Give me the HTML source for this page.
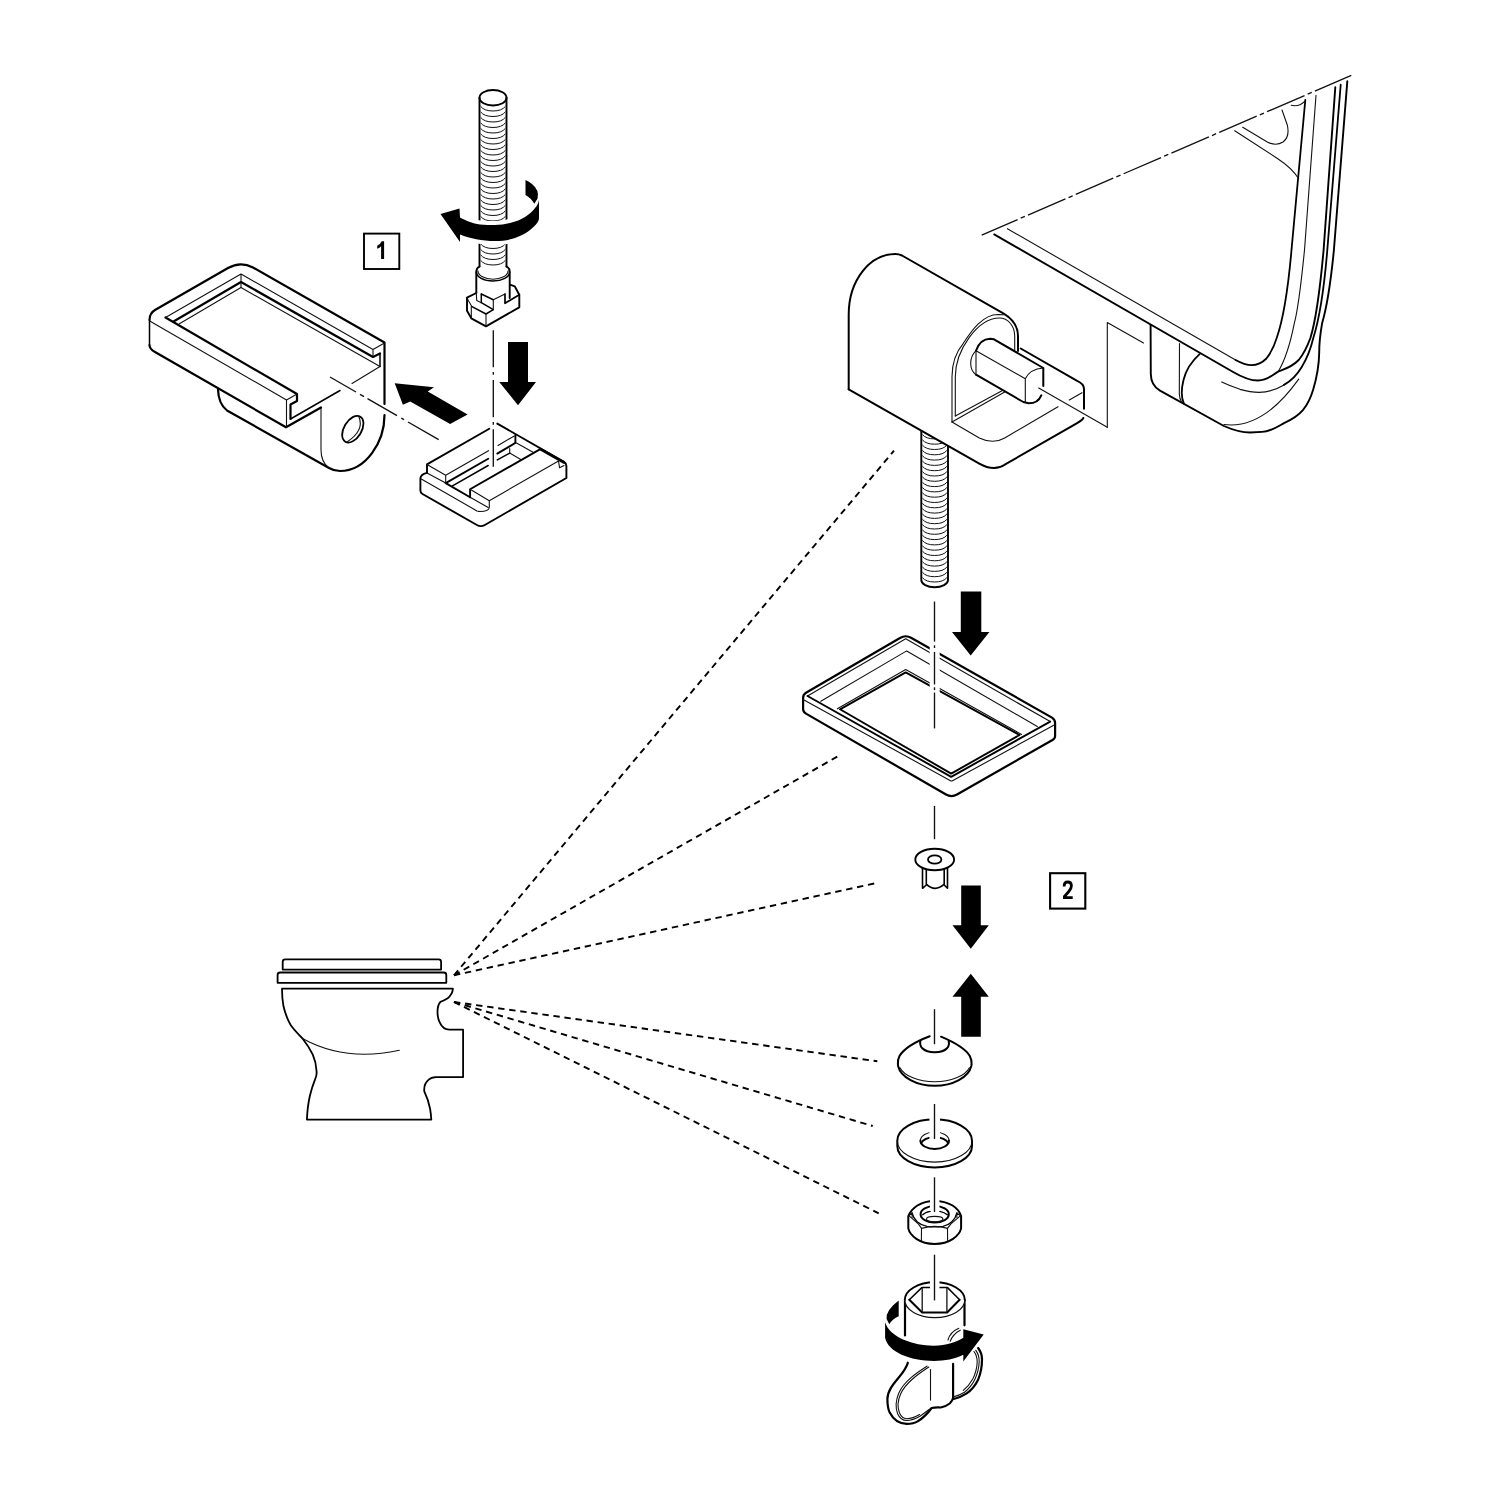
<!DOCTYPE html>
<html><head><meta charset="utf-8"><title>Assembly</title>
<style>
html,body{margin:0;padding:0;background:#fff}
body{width:1500px;height:1500px;overflow:hidden;font-family:"Liberation Sans",sans-serif}
svg{display:block}
.k{fill:none;stroke:#000;stroke-width:2.2;stroke-linecap:round;stroke-linejoin:round}
.m{fill:none;stroke:#000;stroke-width:1.5;stroke-linecap:round;stroke-linejoin:round}
.n{fill:none;stroke:#111;stroke-width:1.1;stroke-linecap:round;stroke-linejoin:round}
.t{fill:none;stroke:#111;stroke-width:1;stroke-linecap:butt}
.c{fill:none;stroke:#111;stroke-width:1.35;stroke-linecap:butt}
.d{fill:none;stroke:#000;stroke-width:1.9;stroke-dasharray:6.4 4.75;stroke-linecap:butt}
.h{fill:none;stroke:#fff;stroke-width:9;stroke-linecap:butt}
.wf{fill:#fff;stroke:none}
#hinge2 .k{stroke-width:2}
#slider .k{stroke-width:1.9}
text{font-family:"Liberation Sans",sans-serif;font-weight:bold;fill:#000}
</style></head><body>
<svg width="1500" height="1500" viewBox="0 0 1500 1500">
<rect width="1500" height="1500" fill="#fff"/>
<g id="block1">
<path class="k" d="M384.5,415 C384.5,442 366,471 340,471 C335,471 331.5,469.5 329,468 L227,410.5 Q218.5,404 218,389.5"/>
<path class="n" d="M321,407.5 L321,450 Q321,462 329,468"/>
<path class="k" d="M149.5,320 Q149.5,313.2 155,310 L228,268 Q240.5,260.8 253,267.5 L384.5,342.5 L384.5,404"/>
<path class="m" d="M149.5,320 L149.5,345"/>
<path class="k" d="M149.5,345 Q149.5,349 155,352 L286,427.3 L321,407.5"/>
<path class="k" d="M165.5,317.5 L297,394 L297,401 L290.5,404.5 L290.5,419"/>
<path class="m" d="M290.5,419 L340,390.5"/>
<path class="n" d="M352,383.5 L380,366.5"/>
<path class="n" d="M286.5,400 L297,394 M286.5,400 L286.5,427.3 M149.7,321 L286.5,400"/>
<path class="n" d="M165.5,317.5 L241,274 L373,349.5 L384.5,343 M241,274 L241,287.5 M373,349.5 L373,357"/>
<path class="k" d="M173.5,321.5 L241,282 L373,357 L380,353.5"/>
<path class="m" d="M380,353.5 L380,366.5"/>
<path class="n" d="M179,324 L241,287.5 L380,366.5"/>
<ellipse class="m" cx="352.8" cy="429.2" rx="14.6" ry="8.8" transform="rotate(-59 352.8 429.2)" style="stroke-width:1.8"/>
<path class="n" d="M359,417 Q364.5,430.5 347,442"/>
</g>
<path class="c" d="M330,377 L356,392"/>
<path class="c" d="M360,394.3 L364,396.6"/>
<path class="c" d="M367.5,398.6 L397,415.7"/>
<path class="c" d="M401.3,418.1 L404,419.7"/>
<path class="c" d="M408,422 L438.7,439.7"/>
<polygon fill="#000" points="394.7,383.3 434,387.2 427.8,391.5 467.6,414.5 450.1,424 410.2,401.6 402.9,404.8"/>
<polygon fill="#000" points="508,342 528,342 528,382 536,382 518,405.3 499.3,382 508,382"/>
<rect x="364" y="233.6" width="35.3" height="35.4" fill="#fff" stroke="#000" stroke-width="1.9"/>
<path fill="#000" d="M381.1,259.1 L384.1,259.1 L384.1,241.2 L381.7,241.2 Q380.4,244.4 377.2,245.7 L377.2,248.8 Q379.8,247.9 381.1,246.2 Z"/>
<g id="bolt1">
<path class="wf" d="M479.5,97.75 L479.5,270 L506.5,270 L506.5,97.75 A13.5,7.75 0 0 0 479.5,97.75 Z"/>
<path class="t" d="M480.6,106.31 A13.5,7.75 0 0 0 505.4,106.31"/>
<path class="t" d="M480.6,111.81 A13.5,7.75 0 0 0 505.4,111.81"/>
<path class="t" d="M480.6,117.31 A13.5,7.75 0 0 0 505.4,117.31"/>
<path class="t" d="M480.6,122.81 A13.5,7.75 0 0 0 505.4,122.81"/>
<path class="t" d="M480.6,128.31 A13.5,7.75 0 0 0 505.4,128.31"/>
<path class="t" d="M480.6,133.81 A13.5,7.75 0 0 0 505.4,133.81"/>
<path class="t" d="M480.6,139.31 A13.5,7.75 0 0 0 505.4,139.31"/>
<path class="t" d="M480.6,144.81 A13.5,7.75 0 0 0 505.4,144.81"/>
<path class="t" d="M480.6,150.31 A13.5,7.75 0 0 0 505.4,150.31"/>
<path class="t" d="M480.6,155.81 A13.5,7.75 0 0 0 505.4,155.81"/>
<path class="t" d="M480.6,161.31 A13.5,7.75 0 0 0 505.4,161.31"/>
<path class="t" d="M480.6,166.81 A13.5,7.75 0 0 0 505.4,166.81"/>
<path class="t" d="M480.6,172.31 A13.5,7.75 0 0 0 505.4,172.31"/>
<path class="t" d="M480.6,177.81 A13.5,7.75 0 0 0 505.4,177.81"/>
<path class="t" d="M480.6,183.31 A13.5,7.75 0 0 0 505.4,183.31"/>
<path class="t" d="M480.6,188.81 A13.5,7.75 0 0 0 505.4,188.81"/>
<path class="t" d="M480.6,194.31 A13.5,7.75 0 0 0 505.4,194.31"/>
<path class="t" d="M480.6,199.81 A13.5,7.75 0 0 0 505.4,199.81"/>
<path class="t" d="M480.6,205.31 A13.5,7.75 0 0 0 505.4,205.31"/>
<path class="t" d="M480.6,210.81 A13.5,7.75 0 0 0 505.4,210.81"/>
<path class="t" d="M480.6,216.31 A13.5,7.75 0 0 0 505.4,216.31"/>
<path class="t" d="M480.6,221.81 A13.5,7.75 0 0 0 505.4,221.81"/>
<path class="t" d="M480.6,227.31 A13.5,7.75 0 0 0 505.4,227.31"/>
<path class="t" d="M480.6,232.81 A13.5,7.75 0 0 0 505.4,232.81"/>
<path class="t" d="M480.6,238.31 A13.5,7.75 0 0 0 505.4,238.31"/>
<path class="t" d="M480.6,243.81 A13.5,7.75 0 0 0 505.4,243.81"/>
<path class="t" d="M480.6,249.31 A13.5,7.75 0 0 0 505.4,249.31"/>
<path class="t" d="M480.6,254.81 A13.5,7.75 0 0 0 505.4,254.81"/>
<path class="t" d="M480.6,260.31 A13.5,7.75 0 0 0 505.4,260.31"/>
<ellipse class="k" cx="493" cy="97.75" rx="13.5" ry="7.75" style="stroke-width:1.9"/>
<path class="k" d="M479.5,97.75 L479.5,266.5 M506.5,97.75 L506.5,266.5" style="stroke-width:1.9"/>
<path class="k" d="M479.5,266.5 Q476.3,268 476.3,272 L476.3,292.7 M506.5,266.5 Q509.7,268 509.7,272 L509.7,298" style="stroke-width:1.9"/>
<path class="k" d="M476.3,272 A16.7,9 0 0 0 509.7,272" style="stroke-width:1.6"/>
<path class="n" d="M478,271 A15,8.2 0 0 0 508,271"/>
<path class="k" d="M476.3,293 L467,297.7 L467,310.7 L471.3,318.3 L486,326.3 L519.3,307.3 L519.3,294.7 L514.7,286.3 L510,284.7" style="stroke-width:1.9"/>
<path class="k" d="M519.3,294.7 L505,303.3 L505,294" style="stroke-width:1.7"/>
<path class="n" d="M505,294 L493.3,299.7"/>
<path class="m" d="M481.3,294 L493.3,299.7"/>
<path class="m" d="M481.3,294 L481.3,302.7 L493.3,309.7 L486,314 L472,306.7"/>
<path class="n" d="M493.3,299.7 L493.3,309.7"/>
<path class="n" d="M486,314 L486,326.3"/>
<path class="n" d="M472,306.7 L468.3,300.5 L467,297.7"/>
<path class="n" d="M471.3,306.5 L471.3,318.3"/>
<path class="n" d="M476.3,292.7 L476.7,300.5 L481.3,302.7"/>
</g>
<path class="c" d="M493.3,330.3 L493.3,367.3"/>
<path class="c" d="M493.3,372 L493.3,374.7"/>
<path class="c" d="M493.3,380 L493.3,417.3"/>
<path class="c" d="M493.3,422 L493.3,424.7"/>
<g id="rot1">
<clipPath id="cr1"><rect x="474" y="205" width="40" height="50"/></clipPath>
<path clip-path="url(#cr1)" fill="none" stroke="#fff" stroke-width="8" d="M460,217.5 L459.5,208.5 L440.5,214 L460,242 L460,234.5 C470,238.5 482,241 495,241 C503,241 509,240 515,238 C522,235.5 527,232.5 530,230 C535,226 539,222 539,218 L539,200 C538,204 537,206 535,208 C532,212 529,214.5 525,217 C521,219.5 516,221.5 510,223 C505,224.3 500,225 495,225 C490,225 485,225 480,224.5 C476,224 473,223 470,222 C466,220.5 463,219 460,217.5 Z"/>
<path class="" d="M525.5,180 L525.5,195 Q531,198 534.3,203.8 L537.6,198.6 Q539.5,190 532,184 Q529,181.6 525.5,180 Z" fill="#000"/>
<path class="" d="M460,217.5 L459.5,208.5 L440.5,214 L460,242 L460,234.5 C470,238.5 482,241 495,241 C503,241 509,240 515,238 C522,235.5 527,232.5 530,230 C535,226 539,222 539,218 L539,200 C538,204 537,206 535,208 C532,212 529,214.5 525,217 C521,219.5 516,221.5 510,223 C505,224.3 500,225 495,225 C490,225 485,225 480,224.5 C476,224 473,223 470,222 C466,220.5 463,219 460,217.5 Z" fill="#000"/>
</g>
<g id="slider">
<path class="k" d="M427,472.9 L427,464.4 L489.3,428.7"/>
<path class="k" d="M497.3,423.6 L564,461.9 Q566.4,463.3 566.4,466 L566.4,478 L484.8,525 Q480.8,527.2 476.9,525 L422.5,494 Q420.4,492.8 420.4,490.5 L420.4,478.5 Q420.4,474.6 427,472.9"/>
<path class="k" d="M445.7,483.1 L488.2,458.7 M497.3,453.6 L515.4,442.9 L515.4,435"/>
<path class="m" d="M452.5,485.9 L488.2,465.5 M497.3,459.9 L509.7,453.1"/>
<path class="k" d="M470.1,497.3 L470.1,489.3 L540.3,449.1"/>
<path class="k" d="M445.7,483.1 L470.1,497.3"/>
<path class="n" d="M427,464.4 L445.7,475.2 L488.5,450.7 M498,445.4 L514.3,436 M445.7,475.2 L445.7,483.1"/>
<path class="n" d="M509.7,448.5 L509.7,453.1 L521.6,459.9 M516.5,442.9 L533.5,452.5"/>
<path class="n" d="M427,472.9 L445.7,483.1"/>
<path class="n" d="M470.1,489.3 L489.3,500.7 L558.5,461 L559.6,467.8 L564.1,465.5"/>
<path class="n" d="M489.3,500.7 L489.3,507.5 Q488.5,512 478,511.4"/>
<path class="n" d="M421.3,479.1 L476.9,510.9 M470.1,497.3 L488.2,507.5"/>
<path class="k" d="M540.3,449.1 L564,462.5" style="stroke-width:2.6"/>
</g>
<path class="c" d="M493.3,429.3 L493.3,466.7"/>
<g id="bolt2"><clipPath id="cb2"><polygon points="919,429.5 950,447.4 950,600 919,600"/></clipPath><g clip-path="url(#cb2)">
<path class="t" d="M922.4,577.60 A13.35,7.3 0 0 0 946.9,577.60"/>
<path class="t" d="M922.4,572.30 A13.35,7.3 0 0 0 946.9,572.30"/>
<path class="t" d="M922.4,567.00 A13.35,7.3 0 0 0 946.9,567.00"/>
<path class="t" d="M922.4,561.70 A13.35,7.3 0 0 0 946.9,561.70"/>
<path class="t" d="M922.4,556.40 A13.35,7.3 0 0 0 946.9,556.40"/>
<path class="t" d="M922.4,551.10 A13.35,7.3 0 0 0 946.9,551.10"/>
<path class="t" d="M922.4,545.80 A13.35,7.3 0 0 0 946.9,545.80"/>
<path class="t" d="M922.4,540.50 A13.35,7.3 0 0 0 946.9,540.50"/>
<path class="t" d="M922.4,535.20 A13.35,7.3 0 0 0 946.9,535.20"/>
<path class="t" d="M922.4,529.90 A13.35,7.3 0 0 0 946.9,529.90"/>
<path class="t" d="M922.4,524.60 A13.35,7.3 0 0 0 946.9,524.60"/>
<path class="t" d="M922.4,519.30 A13.35,7.3 0 0 0 946.9,519.30"/>
<path class="t" d="M922.4,514.00 A13.35,7.3 0 0 0 946.9,514.00"/>
<path class="t" d="M922.4,508.70 A13.35,7.3 0 0 0 946.9,508.70"/>
<path class="t" d="M922.4,503.40 A13.35,7.3 0 0 0 946.9,503.40"/>
<path class="t" d="M922.4,498.10 A13.35,7.3 0 0 0 946.9,498.10"/>
<path class="t" d="M922.4,492.80 A13.35,7.3 0 0 0 946.9,492.80"/>
<path class="t" d="M922.4,487.50 A13.35,7.3 0 0 0 946.9,487.50"/>
<path class="t" d="M922.4,482.20 A13.35,7.3 0 0 0 946.9,482.20"/>
<path class="t" d="M922.4,476.90 A13.35,7.3 0 0 0 946.9,476.90"/>
<path class="t" d="M922.4,471.60 A13.35,7.3 0 0 0 946.9,471.60"/>
<path class="t" d="M922.4,466.30 A13.35,7.3 0 0 0 946.9,466.30"/>
<path class="t" d="M922.4,461.00 A13.35,7.3 0 0 0 946.9,461.00"/>
<path class="t" d="M922.4,455.70 A13.35,7.3 0 0 0 946.9,455.70"/>
<path class="t" d="M922.4,450.40 A13.35,7.3 0 0 0 946.9,450.40"/>
<path class="t" d="M922.4,445.10 A13.35,7.3 0 0 0 946.9,445.10"/>
<path class="t" d="M922.4,439.80 A13.35,7.3 0 0 0 946.9,439.80"/>
<path class="t" d="M922.4,434.50 A13.35,7.3 0 0 0 946.9,434.50"/>
<path class="t" d="M922.4,429.20 A13.35,7.3 0 0 0 946.9,429.20"/>
<path class="t" d="M922.4,423.90 A13.35,7.3 0 0 0 946.9,423.90"/>
<path class="k" d="M921.3,425 L921.3,580 A13.35,7.3 0 0 0 948.0,580 L948.0,425" style="stroke-width:1.9"/>
</g></g>
<g id="hinge2">
<path class="k" d="M848.7,389.3 L848.7,314.7 C848.7,280 870,254 895.3,254 Q899,254 902,255.5 L1003.3,313.3 Q1018,322 1018,336 L1018,351"/>
<path class="k" d="M848.7,389.3 L979.3,463.6 Q987,468 994,468 Q1000,468 1004.7,464.7 L1076.7,423.3 Q1082,420.5 1083.3,418"/>
<path class="k" d="M1084,408.7 L1084,388.7 Q1084,384 1076.7,380.7 L1020.7,348.5"/>
<path class="n" d="M952,422 L952,376.7 C952,362 956,352 963.3,343.3 C972,330 983,314.5 998,314.5 L1004,314.7"/>
<path class="n" d="M955.3,416 L955.3,377 C955.3,350 978,318 999.3,318 C1008,318 1014.7,326 1014.7,336 L1014.7,350"/>
<path class="n" d="M955.3,416 L1002,390.7 M952,422 L1004.7,392"/>
<path class="n" d="M952,422 L979.3,438 Q986,441.3 992.7,441.3 Q999,441.3 1004.7,438 L1058,406.7 M1069.3,400 L1082,392.7"/>
<path class="wf" d="M976,350.7 L994,339.3 L1043.3,368 L1043.3,386 L1028.7,403.3 L976,374.7 Z"/>
<path class="k" d="M976,350.7 Q980,339 990,338.7 L994,339.3 L1043.3,368 L1043.3,386 M1041.3,395.3 Q1038,403.3 1028.7,403.3 L1023.3,402 L976,374.7"/>
<path class="n" d="M976,374.7 Q970.7,371 970.7,363.3 Q970.7,356 976,350.7"/>
<path class="n" d="M976,350.7 L976,374.7 M976,350.7 L1025.3,378.7 L1025.3,402.5 M1025.3,378.7 Q1030,369 1043.3,368"/>
<path class="n" d="M1038.7,388 L1107.3,427.3"/>
<path class="n" d="M1107.3,427.3 L1107.3,322.5 L1143.5,343"/>
</g>
<g id="seat">
<path class="k" d="M1335.3,87.3 L1323.6,250 C1320,290 1316,320 1310.4,338 C1306,350 1302,356 1298.7,360 C1292,367 1285,369 1278.1,371.7 C1272,375 1268,380.5 1258,380.5 C1248,380.5 1240,376 1232.7,371.7 L994.2,234.4" style="stroke-width:1.9"/>
<path class="k" d="M1305.3,100 L1291.5,250 C1288,290 1283,320 1276.7,338 C1273,350 1270,354 1266.4,358.5 C1262,363 1257,365.1 1251.7,365.1 C1246,365.1 1241,363 1235.6,360" style="stroke-width:1.8"/>
<path class="n" d="M1235.6,360 L1007.4,228.7"/>
<path class="n" d="M1316,95.3 L1304.5,250 C1301,285 1298,310 1294.3,323.3 C1290,345 1284,362 1278.1,371.7"/>
<path class="k" d="M1340.7,84.7 L1327.3,250 C1324,290 1319,320 1313.3,338 C1310,352 1306,360 1301.6,367.3 C1297,375 1291,381 1284,384.9" style="stroke-width:1.8"/>
<path class="n" d="M1284,384.9 C1277,389 1268,392.3 1259.1,392.3 C1252,392.3 1246,391 1240,389.3 C1233,387 1227,384.5 1221.7,382" style="stroke-width:1.2"/>
<path class="k" d="M1347.3,81.3 L1333.9,250 C1330,290 1326,310 1322.1,323.3 C1320,335 1319.2,345 1319.2,352.7 C1319,367 1316,380 1313.3,389.3 C1311,397 1308,404 1303.1,409.9 C1298,416 1291,420 1284,423.1 C1277,427 1270,431.9 1262,431.9 L1250,432.5 C1244,432.5 1233,430 1223.9,426 L1160,390.6 Q1151,385.6 1150.8,374 L1150.6,325" style="stroke-width:1.9"/>
<path class="n" d="M1223.9,424.5 Q1262.7,429.6 1298.7,379.1"/>
<path class="k" d="M1199.6,354.2 C1192,361 1186,370 1183.5,380 C1181.5,388 1180.5,396 1183.8,403.3" style="stroke-width:1.8"/>
<path class="n" d="M1179.5,343.5 L1179.3,394 Q1179.5,399 1181.8,402.5"/>
<path class="n" d="M1234.7,130.7 L1276.7,158 Q1292,168 1298.7,178.7"/>
<path class="n" d="M1242.7,127.3 L1267.3,142 Q1276,146.5 1283,142 Q1290,137 1287.3,125 L1282,110"/>
<path class="n" d="M1291.3,105.3 Q1299,107 1304.7,101.3"/>
<path class="c" d="M981.7,235.1 L1351.3,75.3" stroke-dasharray="40.8 3.4 4.5 3.4" stroke-dashoffset="1.7"/>
</g>
<path class="d" d="M454,975.3 L894,450.7"/>
<path class="d" d="M454,975.3 L837.6,756.4"/>
<path class="d" d="M454,975.3 L875,883.3"/>
<path class="d" d="M454,1002 L877.3,1061.3"/>
<path class="d" d="M454,1002 L872.7,1126"/>
<path class="d" d="M454,1002 L878.7,1213.3"/>
<g id="gasket">
<path class="k" d="M803.1,698 Q803.1,694.5 806,692.8 L900,638 Q905.7,634.5 911.5,638 L1052,717.6 Q1055.1,719.5 1055.1,723 L1055.1,736 Q1055.1,738.5 1052.5,740 L957,794.5 Q951.5,797.8 946,794.5 L806,713.6 Q803.1,712 803.1,709 Z"/>
<path class="n" d="M807.5,696 L905.7,638.8 L1050.2,721.6"/>
<path class="k" d="M807.5,696 L951.2,776.8 L1050.2,721.6" style="stroke-width:1.9"/>
<path class="n" d="M820.8,701.3 L906.7,650.9 L1037.3,726.5"/>
<path class="k" d="M840,709.3 L905.7,672.4 L1019.5,735 L951.2,773.6 Z" style="stroke-width:1.9"/>
<path class="n" d="M837.4,708.8 L905.7,669.6 L1021.5,734.4"/>
<path class="n" d="M803.1,699.5 L950.5,780.7 Q951.5,781.4 952.5,780.7 L1055.1,724.6"/>
</g>
<path class="h" d="M934.7,636 L934.7,700" style="stroke-width:10"/>
<path class="c" d="M934.5,601.5 L934.5,641.6"/>
<path class="c" d="M934.5,645.3 L934.5,648"/>
<path class="c" d="M934.5,651.9 L934.5,684.5"/>
<path class="c" d="M934.5,687.3 L934.5,690.1"/>
<path class="c" d="M934.5,692.6 L934.5,728.4"/>
<path class="c" d="M934.5,805.9 L934.5,839.2"/>
<polygon fill="#000" points="960.8,591.6 981.3,591.6 981.3,631.9 989.4,631.9 970.7,655.6 952,631.9 960.8,631.9"/>
<polygon fill="#000" points="961.2,885.5 980.8,885.5 980.8,925.3 988.8,925.3 970.8,948.7 952.5,925.3 961.2,925.3"/>
<polygon fill="#000" points="970.8,973.7 988.8,996.7 980.8,996.7 980.8,1036.7 961.2,1036.7 961.2,996.7 952.5,996.7"/>
<rect x="1050.1" y="873.2" width="35.2" height="35.4" fill="#fff" stroke="#000" stroke-width="2.1"/>
<path fill="none" stroke="#000" stroke-width="2.8" stroke-linejoin="miter" stroke-miterlimit="2" d="M1064.1,886.4 C1064.1,883.6 1065.5,882 1067.7,882 C1070,882 1071.4,883.6 1071.4,886 C1071.4,888.4 1070.2,890 1068.6,891.8 L1064.4,896.6 L1064.4,897.6 L1072.7,897.6"/>
<g id="bushing">
<path class="m" d="M922.5,862 L922.5,888.3 L926.3,885 M947.5,862 L947.5,888.3 L944.2,885" style="stroke-width:1.6"/>
<path class="m" d="M926.3,866 L926.3,884.2 Q935,892.5 944.2,884.2 L944.2,866" style="stroke-width:1.6"/>
<ellipse cx="934.7" cy="859.5" rx="19.4" ry="10.8" fill="#fff" stroke="#000" stroke-width="1.9"/>
<ellipse cx="934.7" cy="859.5" rx="6.7" ry="4.2" fill="#fff" stroke="#000" stroke-width="1.8"/>
</g>
<g id="cone">
<path class="k" d="M929.7,1036.3 C920,1040 905,1047 899.5,1056 Q897.5,1060 897.9,1064 L898.1,1066 A37,23.2 0 0 0 971.3,1066 L971.6,1064 Q971.8,1060 969.8,1056 C964,1046.5 950,1040.5 941,1036.7" style="stroke-width:2"/>
<path class="k" d="M920.3,1041 C919.8,1044 920.5,1046.5 922.3,1048.3 C925,1051 930,1052.3 934.7,1052.3 C939.5,1052.3 944.5,1051 947,1048.3 C948.8,1046.5 949.4,1044 948.7,1041" style="stroke-width:2"/>
<path class="n" d="M900,1067.7 A36,19.2 0 0 0 969.4,1067.7"/>
</g>
<path class="c" d="M934.5,1009.2 L934.5,1044.2"/>
<g id="washer">
<path class="k" d="M897.3,1140.7 A37.35,21.4 0 0 1 972,1140.7 L972,1146 A37.35,21.4 0 0 1 897.3,1146 Z" style="stroke-width:2"/>
<path class="n" d="M897.3,1140.7 A37.35,21.4 0 0 0 972,1140.7"/>
<path class="k" d="M920.4,1140.5 A14.3,8.5 0 0 0 949,1140.5" style="stroke-width:2"/>
<path class="n" d="M920.4,1140.5 A14.3,8.5 0 0 1 949,1140.5"/>
<path class="k" d="M921,1143.3 A14.3,8.5 0 0 1 948.4,1143.3" style="stroke-width:1.8"/>
</g>
<path class="h" d="M934.7,1114 L934.7,1140.3" style="stroke-width:10.5"/>
<path class="c" d="M934.5,1104 L934.5,1139"/>
<g id="nut">
<path class="k" d="M908.3,1228.4 L908.3,1216.1 C910.5,1211 913.5,1208 917.4,1205.5 C922,1202.5 928,1200.9 934.7,1200.9 C941.5,1200.9 947.5,1202.5 952.6,1205.5 C956.5,1208 959.5,1211 961.1,1216.1 L961.1,1228.4 C959.5,1235.5 950,1243.9 934.7,1243.9 C919.4,1243.9 909.9,1235.5 908.3,1228.4 Z" style="stroke-width:2"/>
<path class="m" d="M912.1,1212.9 C913,1217 915,1219.8 917.4,1222 C920,1224.3 923,1225.6 927,1226.3 Q934.7,1227.3 943,1226.3 C946.5,1225.6 949.3,1224.3 951.5,1222 C954,1219.8 956,1217 956.9,1212.9" style="stroke-width:1.3"/>
<path class="n" d="M909.4,1216.1 L918.5,1224.1 L921.6,1228.4 Q934.6,1224.4 947.5,1228.4 L950.7,1224.1 L960,1216.1"/>
<path class="n" d="M921.5,1228.4 L921.4,1240.4 M947.5,1228.4 L947.6,1240.4"/>
<path class="n" d="M908.6,1216.1 L912.1,1212.9 L912.1,1217.5 M960.8,1216.1 L956.9,1212.9 L956.9,1217.5"/>
<ellipse class="k" cx="934.7" cy="1214.3" rx="14.1" ry="8.3" style="stroke-width:2"/>
<path class="m" d="M922.7,1214.8 Q925,1212.3 930.2,1211.3 M939.8,1211.3 Q944.5,1212.3 947.3,1214.8" style="stroke-width:1.3"/>
<ellipse class="n" cx="934.7" cy="1219.1" rx="8.2" ry="2.7"/>
</g>
<path class="h" d="M934.7,1196 L934.7,1211" style="stroke-width:9.5"/>
<path class="c" d="M934.5,1177.3 L934.5,1212"/>
<g id="wing">
<path class="k" d="M907.8,1362.7 C905,1375 887.4,1385 887.4,1399 C887.4,1405 888,1409 889.7,1412.6 C893,1419 899,1423.9 906.7,1423.9 C911,1423.9 915,1423 918,1421.1 C923,1418 928,1413 931.6,1408 Q936,1407 940.7,1407.5 Q946,1406.5 949.7,1403.5 Q952.5,1401 953.1,1397.9"/>
<path class="n" d="M927.1,1366.1 C918,1372 904,1381 898.7,1393.3 C895.5,1401 895.5,1408 897.6,1413.7 C899.5,1418 902.5,1420.5 906.7,1420.5 C911,1420.5 916,1418.5 920.3,1416 C924,1413.5 927,1411 929.4,1409.2"/>
<path class="n" d="M928.8,1367 C920,1373 906,1382 900.6,1394 C897.5,1401 897.5,1407.5 899.4,1412.8 C901,1416.5 903.5,1418.7 906.9,1418.7 C911,1418.7 915.5,1417 919.6,1414.5"/>
<path class="n" d="M930.5,1369.5 L930.5,1400.1"/>
<path class="k" d="M953.1,1363.9 L953.1,1397.9"/>
<path class="k" d="M978.1,1348 Q982,1353 982,1359.3 C982,1367 980.5,1374 978.1,1379.7 C975,1386 971,1390.5 966.7,1393.3 Q960,1397.5 953.7,1399"/>
<path class="n" d="M975.8,1350.3 Q979.3,1355 979.2,1361.6 C979,1368 977.5,1374 974.7,1379.7 C972,1385 968.5,1389 964.5,1392.2 Q959,1395.5 953.7,1396.7"/>
<path class="n" d="M974,1351.5 Q977.3,1356 977.2,1362 C977,1368 975.5,1373.5 972.9,1378.8 C970.3,1383.5 967,1387.5 963.3,1390.4"/>
<path class="k" d="M905,1300.4 L905,1335.5 M964.5,1300.4 L964.5,1325.3"/>
<ellipse cx="934.8" cy="1300" rx="30" ry="17.7" fill="#fff" stroke="none"/>
<path class="k" d="M904.8,1300 A30,17.7 0 0 1 964.8,1300" style="stroke-width:2"/>
<path class="n" d="M904.8,1300 A30,17.7 0 0 0 964.8,1300" style="stroke-width:1.2"/>
<path class="m" d="M909.3,1299.7 L921.8,1287.6 L947.5,1287.6 L959.6,1299.7" style="stroke-width:1.5"/>
<path class="k" d="M909.3,1299.7 L922.2,1312.5 L947.1,1312.5 L959.6,1299.7" style="stroke-width:2"/>
<path class="n" d="M922.2,1288 L922.2,1312 M946.9,1288 L946.9,1312" style="stroke-width:1.3"/>
<path class="n" d="M948,1340 Q950,1332 958.8,1328.2 M950.2,1341.2 Q953,1334 960.2,1330.2"/>
</g>
<path class="h" d="M934.7,1278 L934.7,1292" style="stroke-width:9.5"/>
<path class="c" d="M934.5,1254.7 L934.5,1300.4"/>
<g id="rot2">
<path class="" d="M898.7,1300.4 L898.7,1316.3 Q892.5,1319 889.3,1324.2 L886.6,1319 Q885.3,1310.5 898.7,1300.4 Z" fill="#000"/>
<path class="" d="M885.1,1322.3 C890,1338 915,1346 934,1345.7 C946,1345.5 957,1342 963.3,1337.8 L963.3,1329.3 L983.7,1334.4 L963.3,1361.6 L963.3,1354.8 C955,1359 945,1361 934,1361 C910,1361 888,1352 885.1,1337.8 Z" fill="#000"/>
</g>
<g id="toilet">
<path class="k" d="M282.7,969.6 L282.7,961.8 Q282.7,959.3 285.2,959.3 L438.6,959.3 Q441.1,959.3 441.1,961.8 L441.1,969.6 Z" style="stroke-width:1.8"/>
<path class="k" d="M277.6,982.8 L277.6,975 Q277.6,972.5 280.1,972.5 L443.8,972.5 Q446.3,972.5 446.3,975 L446.3,982.8 Z" style="stroke-width:1.8"/>
<path class="k" d="M282,988.7 L452.9,988.7 Q452.6,994 447.7,998.2 Q444,1000.5 440.4,1001.9 Q437.5,1005 437.5,1012.1 Q437.5,1018 439.7,1022.4 Q443,1029.7 449.2,1029.7 L463.1,1029.7 L463.1,1077.1 L436,1077.1 Q431,1077.4 428.7,1079.6 Q423.5,1084 424.3,1091.3 Q428.5,1100 430.1,1108.9 Q431,1114 431.3,1119.6 L306.9,1119.6 Q307.5,1106 309.9,1095.7 Q312,1087 315,1079.6 Q317.2,1075 316.5,1070.8 Q316,1062 312.8,1054.7 Q308.5,1046 302.5,1038.5 Q295,1031 290.8,1025.3 Q286,1017 283.5,1006.3 Q282,998 282,988.7 Z" style="stroke-width:1.8"/>
<path class="n" d="M302.5,1038.5 Q345,1062 399.3,1050.3"/>
</g>
</svg></body></html>
